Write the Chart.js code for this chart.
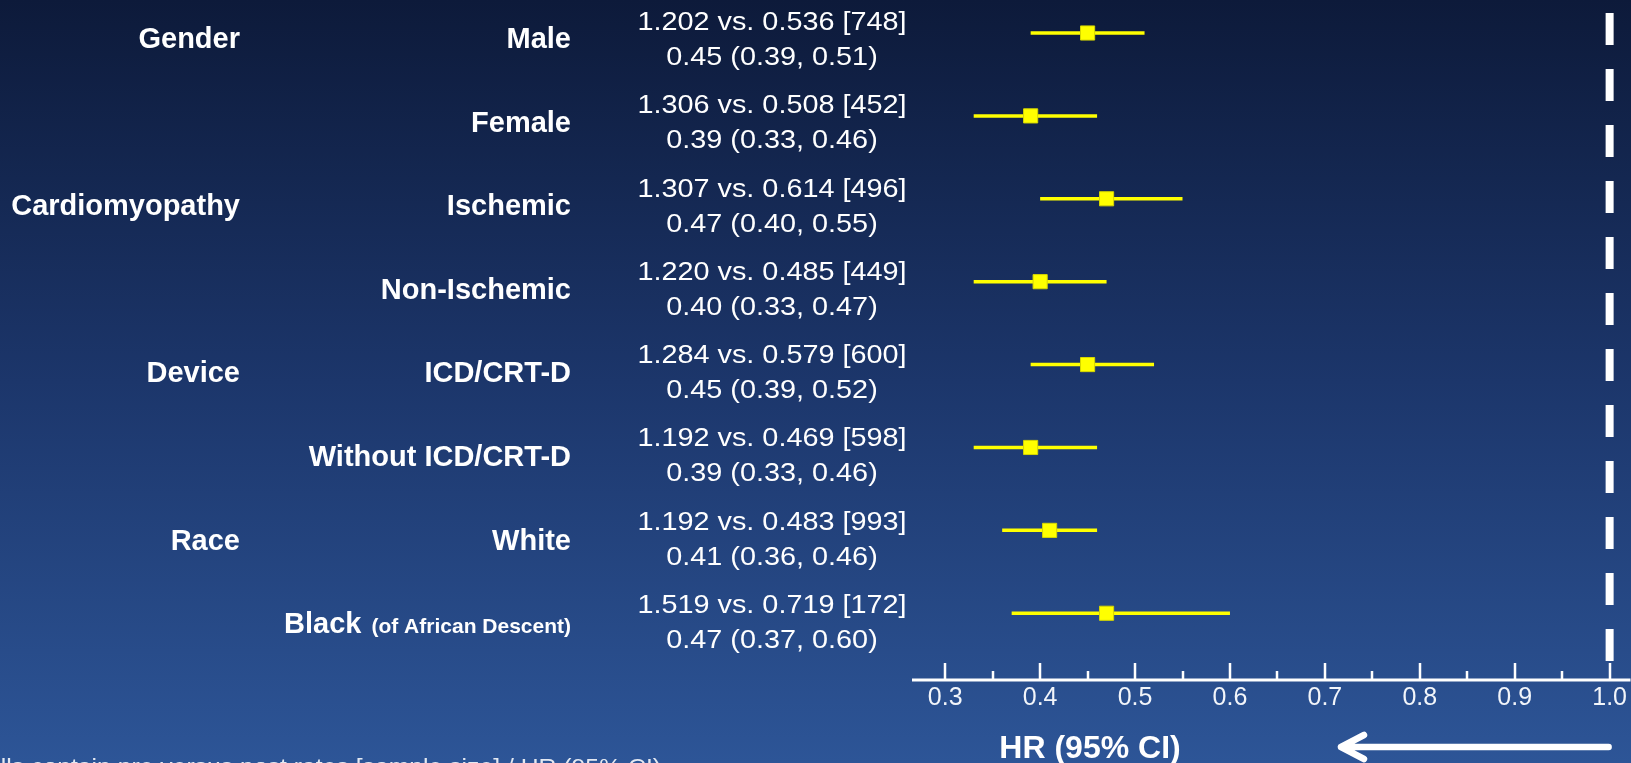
<!DOCTYPE html>
<html>
<head>
<meta charset="utf-8">
<script src="https://cdn.jsdelivr.net/npm/chart.js@4/dist/chart.umd.min.js"></script>
<style>
  html, body { margin: 0; padding: 0; overflow: hidden; background: #1d386d; }
  canvas { display: block; }
</style>
</head>
<body>
<canvas id="forest" width="1631" height="763"></canvas>
<script>
// Subgroup forest plot: hazard ratio (95% CI) per subgroup
const groups        = ['Gender', '', 'Cardiomyopathy', '', 'Device', '', 'Race', ''];
const subgroups     = ['Male', 'Female', 'Ischemic', 'Non-Ischemic', 'ICD/CRT-D', 'Without ICD/CRT-D', 'White', 'Black'];
const subgroupNotes = ['', '', '', '', '', '', '', '(of African Descent)'];
const preRates      = [1.202, 1.306, 1.307, 1.220, 1.284, 1.192, 1.192, 1.519];
const postRates     = [0.536, 0.508, 0.614, 0.485, 0.579, 0.469, 0.483, 0.719];
const sampleSizes   = [748, 452, 496, 449, 600, 598, 993, 172];
const hazardRatios  = [0.45, 0.39, 0.47, 0.40, 0.45, 0.39, 0.41, 0.47];
const ciLower       = [0.39, 0.33, 0.40, 0.33, 0.39, 0.33, 0.36, 0.37];
const ciUpper       = [0.51, 0.46, 0.55, 0.47, 0.52, 0.46, 0.46, 0.60];
const xTicks        = [0.3, 0.4, 0.5, 0.6, 0.7, 0.8, 0.9, 1.0];
const xMinorTicks   = [0.35, 0.45, 0.55, 0.65, 0.75, 0.85, 0.95];
const referenceHR   = 1.0;
const axisTitle     = 'HR (95% CI)';
const footnote      = 'Cells contain pre versus post rates [sample size] / HR (95% CI)';

const rows = subgroups.map((_, i) => i);
const YELLOW = '#ffff00';
const WHITE = '#ffffff';
const FONT = '"Liberation Sans", Arial, sans-serif';

// whiskers: one short line per subgroup
const whiskerSets = rows.map(i => ({
  data: [{ x: ciLower[i], y: i }, { x: ciUpper[i], y: i }],
  showLine: true,
  borderColor: YELLOW,
  borderWidth: 3.5,
  pointRadius: 0,
  order: 2
}));

const estimateSet = {
  data: rows.map(i => ({ x: hazardRatios[i], y: i })),
  pointStyle: 'rect',
  pointRadius: 10,
  backgroundColor: YELLOW,
  borderColor: '#d6d600',
  borderWidth: 1,
  order: 1
};

// line of no effect
const referenceSet = {
  data: [{ x: referenceHR, y: -0.241 }, { x: referenceHR, y: 7.63 }],
  showLine: true,
  borderColor: WHITE,
  borderWidth: 8,
  borderDash: [32, 24],
  borderCapStyle: 'butt',
  pointRadius: 0,
  order: 3
};

const backdrop = {
  id: 'backdrop',
  beforeDraw(chart) {
    const { ctx, width, height } = chart;
    const g = ctx.createLinearGradient(0, 0, 0, height);
    g.addColorStop(0, '#0d1a3a');
    g.addColorStop(0.5, '#1c366b');
    g.addColorStop(1, '#2d5597');
    ctx.save();
    ctx.fillStyle = g;
    ctx.fillRect(0, 0, width, height);
    ctx.restore();
  }
};

// text drawn slightly widened, as in the slide's text boxes
function wideText(ctx, text, x, y, sx) {
  ctx.save();
  ctx.translate(x, y);
  ctx.scale(sx, 1);
  ctx.fillText(text, 0, 0);
  ctx.restore();
}

const annotations = {
  id: 'annotations',
  afterDatasetsDraw(chart) {
    const { ctx } = chart;
    const xs = chart.scales.x, ys = chart.scales.y;
    const area = chart.chartArea;
    ctx.save();
    ctx.fillStyle = WHITE;
    ctx.textBaseline = 'alphabetic';

    rows.forEach(i => {
      const ry = ys.getPixelForValue(i);
      // group + subgroup labels
      const ly = ry + 15 + i * 0.7;
      ctx.font = 'bold 29px ' + FONT;
      ctx.textAlign = 'right';
      if (groups[i]) ctx.fillText(groups[i], 240, ly);
      if (subgroupNotes[i]) {
        ctx.font = 'bold 21px ' + FONT;
        const noteW = ctx.measureText(subgroupNotes[i]).width;
        ctx.fillText(subgroupNotes[i], 571, ly);
        ctx.font = 'bold 29px ' + FONT;
        ctx.fillText(subgroups[i], 571 - noteW - 10, ly);
      } else {
        ctx.fillText(subgroups[i], 571, ly);
      }
      // rates and hazard ratio text
      ctx.font = '25.5px ' + FONT;
      ctx.textAlign = 'center';
      const ty = ry - 1 + i * 0.4;
      const l1 = preRates[i].toFixed(3) + ' vs. ' + postRates[i].toFixed(3) + ' [' + sampleSizes[i] + ']';
      const l2 = hazardRatios[i].toFixed(2) + ' (' + ciLower[i].toFixed(2) + ', ' + ciUpper[i].toFixed(2) + ')';
      wideText(ctx, l1, 772, ty - 2, 1.13);
      wideText(ctx, l2, 772, ty + 33, 1.13);
    });

    // axis line with upward major / minor ticks
    const base = area.bottom + 1;
    ctx.strokeStyle = WHITE;
    ctx.lineWidth = 3;
    ctx.beginPath();
    ctx.moveTo(area.left, base);
    ctx.lineTo(area.right, base);
    ctx.stroke();
    ctx.lineWidth = 2.5;
    ctx.beginPath();
    xTicks.forEach(v => {
      const px = Math.round(xs.getPixelForValue(v));
      ctx.moveTo(px, base);
      ctx.lineTo(px, base - 17);
    });
    xMinorTicks.forEach(v => {
      const px = Math.round(xs.getPixelForValue(v));
      ctx.moveTo(px, base);
      ctx.lineTo(px, base - 9);
    });
    ctx.stroke();

    // axis title
    ctx.font = 'bold 32px ' + FONT;
    ctx.textAlign = 'center';
    ctx.fillText(axisTitle, 1090, 758);

    // direction arrow pointing toward lower HR
    const ay = 747, tailX = xs.getPixelForValue(referenceHR) - 1, tipX = 1341;
    ctx.lineWidth = 6.5;
    ctx.lineCap = 'round';
    ctx.lineJoin = 'round';
    ctx.beginPath();
    ctx.moveTo(tailX, ay);
    ctx.lineTo(tipX, ay);
    ctx.moveTo(tipX + 23, ay - 12);
    ctx.lineTo(tipX, ay);
    ctx.lineTo(tipX + 23, ay + 12);
    ctx.stroke();

    // footnote (runs off the page edges)
    ctx.font = '22.5px ' + FONT;
    ctx.textAlign = 'right';
    ctx.fillStyle = '#e4e9f2';
    wideText(ctx, footnote, 661, 774, 1.1);
    ctx.restore();
  }
};

new Chart(document.getElementById('forest'), {
  type: 'scatter',
  data: { datasets: [...whiskerSets, estimateSet, referenceSet] },
  options: {
    responsive: false,
    animation: false,
    events: [],
    layout: { autoPadding: false, padding: { left: 912, right: 0, top: 0, bottom: 0 } },
    plugins: { legend: { display: false }, tooltip: { enabled: false } },
    scales: {
      x: {
        type: 'linear',
        position: 'bottom',
        min: 0.265,
        max: 1.022,
        afterBuildTicks: s => { s.ticks = xTicks.map(v => ({ value: v })); },
        afterFit: s => { s.height = 84; },
        grid: { display: false, drawTicks: false },
        border: { display: false },
        ticks: {
          color: '#f2f5fa',
          font: { family: FONT, size: 25 },
          padding: 4,
          maxRotation: 0,
          autoSkip: false,
          callback: v => Number(v).toFixed(1)
        }
      },
      y: {
        type: 'linear',
        reverse: true,
        min: -0.398,
        max: 7.793,
        display: false
      }
    }
  },
  plugins: [backdrop, annotations]
});
</script>
</body>
</html>
